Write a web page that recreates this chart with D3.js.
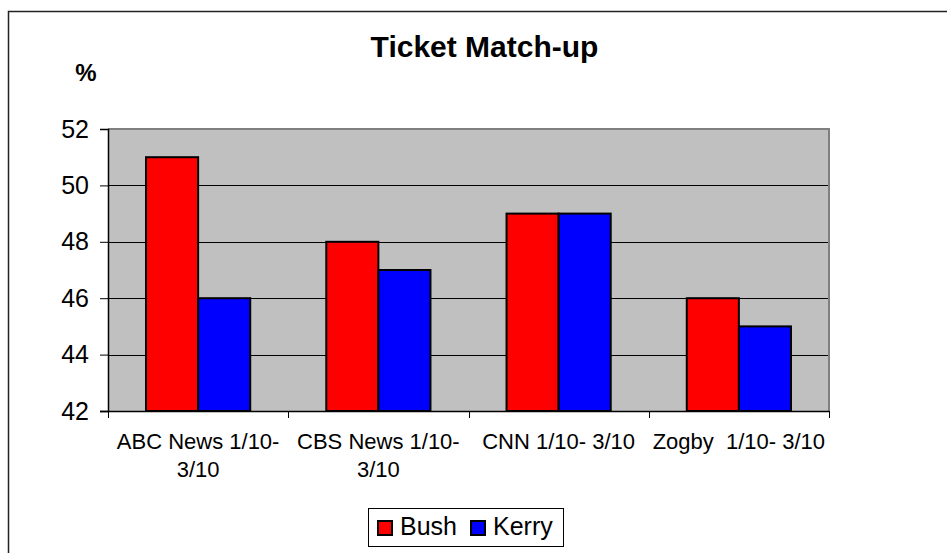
<!DOCTYPE html>
<html>
<head>
<meta charset="utf-8">
<script src="https://cdn.jsdelivr.net/npm/d3@7"></script>
<style>
  html, body { margin: 0; padding: 0; background: #fff; }
  svg text { font-family: Arial, "Liberation Sans", sans-serif; }
</style>
</head>
<body>
<svg id="chart"></svg>
<script>
const width = 947;
const height = 553;

// data
const categories = ['ABC News 1/10- 3/10', 'CBS News 1/10- 3/10', 'CNN 1/10- 3/10', 'Zogby  1/10- 3/10'];
const seriesNames = ['Bush', 'Kerry'];
const bush = [51, 48, 49, 46];
const kerry = [46, 47, 49, 45];
const yTicks = [42, 44, 46, 48, 50, 52];
const colors = ['#FF0000', '#0000FF'];

const plot = {left: 108, right: 829, top: 129, bottom: 411};

const svg = d3.select('svg#chart')
  .attr('width', width)
  .attr('height', height);

// outer chart border (right/bottom edges run off the picture)
svg.append('rect')
  .attr('x', 8.5).attr('y', 11.5)
  .attr('width', width + 10).attr('height', height + 10)
  .attr('fill', 'none')
  .attr('stroke', '#222')
  .attr('stroke-width', 1.5);

const x0 = d3.scaleBand()
  .domain(categories)
  .range([plot.left, plot.right])
  .paddingInner(0).paddingOuter(0);

const x1 = d3.scaleBand()
  .domain(seriesNames)
  .range([0, x0.bandwidth()])
  .paddingInner(0)
  .paddingOuter(0.73);

const y = d3.scaleLinear()
  .domain([42, 52])
  .range([plot.bottom, plot.top]);

// plot area
svg.append('rect')
  .attr('x', plot.left).attr('y', plot.top)
  .attr('width', plot.right - plot.left)
  .attr('height', plot.bottom - plot.top)
  .attr('fill', '#C0C0C0');

// gridlines
svg.append('g')
  .selectAll('line')
  .data(yTicks.filter(d => d > 42 && d < 52))
  .enter()
  .append('line')
  .attr('x1', plot.left).attr('x2', plot.right)
  .attr('y1', d => Math.round(y(d)) + 0.5)
  .attr('y2', d => Math.round(y(d)) + 0.5)
  .attr('stroke', '#000')
  .attr('stroke-width', 1);

// plot border top / right
svg.append('path')
  .attr('d', `M${plot.left},${plot.top}H${plot.right}V${plot.bottom}`)
  .attr('fill', 'none')
  .attr('stroke', '#808080')
  .attr('stroke-width', 2);

// bars
const rows = categories.map((c, i) => ({cat: c, values: [bush[i], kerry[i]]}));
const groups = svg.append('g')
  .selectAll('g')
  .data(rows)
  .enter()
  .append('g')
  .attr('transform', d => `translate(${x0(d.cat)},0)`);

groups.selectAll('rect')
  .data(d => d.values.map((v, j) => ({name: seriesNames[j], value: v, j})))
  .enter()
  .append('rect')
  .attr('x', d => x1(d.name))
  .attr('y', d => y(d.value))
  .attr('width', x1.bandwidth())
  .attr('height', d => y(42) - y(d.value))
  .attr('fill', d => colors[d.j])
  .attr('stroke', '#000')
  .attr('stroke-width', 2);

// y axis
const ay = d3.axisLeft(y)
  .tickValues(yTicks)
  .tickSize(8)
  .tickPadding(11)
  .tickFormat(d3.format('d'));
const gy = svg.append('g')
  .attr('transform', `translate(${plot.left},0)`)
  .call(ay);
gy.select('.domain').attr('stroke', '#000').attr('stroke-width', 1.5);
gy.selectAll('.tick line').attr('stroke', '#000');
gy.selectAll('.tick text')
  .attr('font-size', 25)
  .attr('font-family', 'Arial, "Liberation Sans", sans-serif')
  .attr('fill', '#000');

// x axis line + ticks at category boundaries
const gx = svg.append('g');
gx.append('line')
  .attr('x1', plot.left - 8).attr('x2', plot.right)
  .attr('y1', plot.bottom + 0.5).attr('y2', plot.bottom + 0.5)
  .attr('stroke', '#000').attr('stroke-width', 1.5);
const bounds = categories.map(c => x0(c)).concat([x0.range()[1]]);
gx.selectAll('.xtick')
  .data(bounds)
  .enter()
  .append('line')
  .attr('class', 'xtick')
  .attr('x1', d => Math.round(d) + 0.5).attr('x2', d => Math.round(d) + 0.5)
  .attr('y1', plot.bottom).attr('y2', plot.bottom + 7)
  .attr('stroke', '#000');

// category labels, wrapped to the band width
const labels = gx.selectAll('.xlabel')
  .data(categories)
  .enter()
  .append('text')
  .attr('class', 'xlabel')
  .attr('x', d => x0(d) + x0.bandwidth() / 2)
  .attr('y', 449)
  .attr('text-anchor', 'middle')
  .attr('font-size', 22)
  .style('white-space', 'pre')
  .attr('fill', '#000')
  .text(d => d);

labels.each(function(d){
  const t = d3.select(this);
  const maxW = x0.bandwidth() - 6;
  if (this.getComputedTextLength() <= maxW) return;
  const words = d.split(' ');
  let lines = [];
  let cur = '';
  words.forEach(w => {
    const test = cur ? cur + ' ' + w : w;
    t.text(test);
    if (this.getComputedTextLength() > maxW && cur){
      lines.push(cur);
      cur = w;
    } else {
      cur = test;
    }
  });
  lines.push(cur);
  t.text(null);
  const cx = x0(d) + x0.bandwidth() / 2;
  lines.forEach((ln, i) => {
    t.append('tspan')
      .attr('x', cx)
      .attr('dy', i === 0 ? 0 : 28)
      .text(ln);
  });
});

// title
svg.append('text')
  .attr('x', 484.5).attr('y', 57)
  .attr('text-anchor', 'middle')
  .attr('font-size', 30)
  .attr('font-weight', 'bold')
  .text('Ticket Match-up');

// y axis unit
svg.append('text')
  .attr('x', 86).attr('y', 81)
  .attr('text-anchor', 'middle')
  .attr('font-size', 24)
  .attr('font-weight', 'bold')
  .text('%');

// legend
const legend = svg.append('g');
legend.append('rect')
  .attr('x', 368.5).attr('y', 508.5)
  .attr('width', 195).attr('height', 38)
  .attr('fill', '#fff')
  .attr('stroke', '#000');

const legendX = [377, 470];
const items = legend.selectAll('.item')
  .data(seriesNames)
  .enter()
  .append('g')
  .attr('class', 'item')
  .attr('transform', (d, i) => `translate(${legendX[i]},0)`);
items.append('rect')
  .attr('x', 1).attr('y', 521)
  .attr('width', 14).attr('height', 14)
  .attr('fill', (d, i) => colors[i])
  .attr('stroke', '#000')
  .attr('stroke-width', 2);
items.append('text')
  .attr('x', 23).attr('y', 535)
  .attr('font-size', 25)
  .attr('fill', '#000')
  .text(d => d);
</script>
</body>
</html>
